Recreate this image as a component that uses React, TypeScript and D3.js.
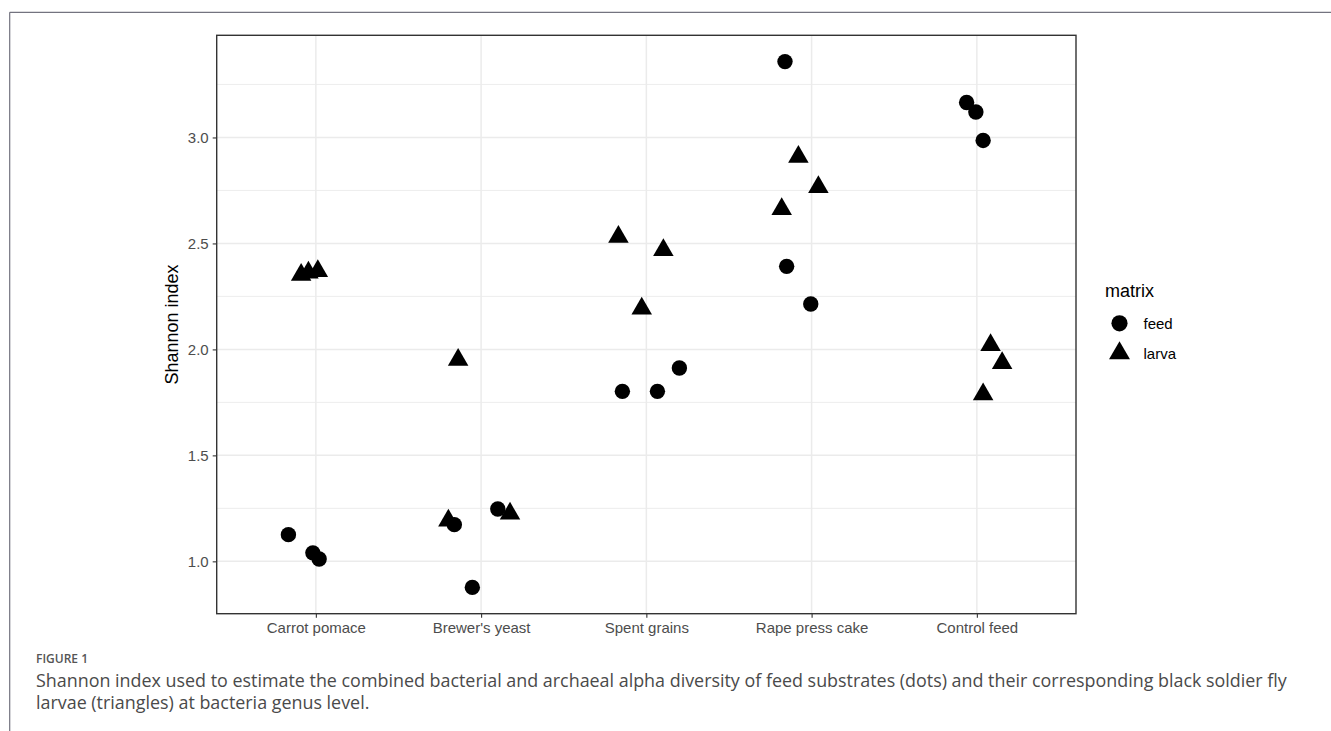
import React, { useEffect, useRef } from 'react';
import * as d3 from 'd3';

// substrate groups on the x axis
const categories = ['Carrot pomace', "Brewer's yeast", 'Spent grains', 'Rape press cake', 'Control feed'];

// Shannon index per sample, three replicates per group
const feedValues = [
  [1.126, 1.040, 1.011],
  [1.173, 1.247, 0.877],
  [1.802, 1.802, 1.912],
  [3.358, 2.392, 2.214],
  [3.165, 3.120, 2.986],
];
const larvaValues = [
  [2.352, 2.362, 2.370],
  [1.192, 1.225, 1.951],
  [2.531, 2.469, 2.193],
  [2.909, 2.766, 2.662],
  [2.020, 1.935, 1.788],
];

// horizontal jitter (in category units) as seen in the figure
const feedJitter = [
  [-0.166, -0.018, 0.020],
  [-0.162, 0.101, -0.053],
  [-0.145, 0.067, 0.200],
  [-0.161, -0.151, -0.005],
  [-0.062, -0.006, 0.038],
];
const larvaJitter = [
  [-0.089, -0.045, 0.012],
  [-0.198, 0.175, -0.139],
  [-0.169, 0.103, -0.028],
  [-0.080, 0.041, -0.181],
  [0.083, 0.153, 0.038],
];

const yTicks = [1.0, 1.5, 2.0, 2.5, 3.0];
const yMinor = [1.25, 1.75, 2.25, 2.75, 3.25];
const legendItems = ['feed', 'larva'];

const W = 1331;
const H = 731;
const margin = { top: 35.3, right: 255, bottom: 117.3, left: 216.7 };
const font = 'Liberation Sans, Arial, Helvetica, sans-serif';

export default function App() {
  const ref = useRef(null);

  useEffect(() => {
    const svg = d3.select(ref.current);
    svg.selectAll('*').remove();

    const left = margin.left;
    const right = W - margin.right;
    const top = margin.top;
    const bottom = H - margin.bottom;

    const all = feedValues.flat().concat(larvaValues.flat());
    const lo = d3.min(all);
    const hi = d3.max(all);
    const pad = (hi - lo) * 0.05;

    const x = d3.scalePoint().domain(categories).range([left, right]).padding(0.6);
    const y = d3.scaleLinear().domain([lo - pad, hi + pad]).range([bottom, top]);

    // figure frame lines
    svg.append('line')
      .attr('x1', 9.7).attr('x2', W).attr('y1', 12.3).attr('y2', 12.3)
      .attr('stroke', '#73737f').attr('stroke-width', 1.2);
    svg.append('line')
      .attr('x1', 9.7).attr('x2', 9.7).attr('y1', 12.3).attr('y2', H)
      .attr('stroke', '#73737f').attr('stroke-width', 1.2);

    const grid = svg.append('g');
    grid.selectAll('.minor')
      .data(yMinor)
      .join('line')
      .attr('x1', left).attr('x2', right)
      .attr('y1', d => y(d)).attr('y2', d => y(d))
      .attr('stroke', '#ebebeb').attr('stroke-width', 0.9);
    grid.selectAll('.major')
      .data(yTicks)
      .join('line')
      .attr('x1', left).attr('x2', right)
      .attr('y1', d => y(d)).attr('y2', d => y(d))
      .attr('stroke', '#ebebeb').attr('stroke-width', 1.5);
    grid.selectAll('.vmajor')
      .data(categories)
      .join('line')
      .attr('x1', d => x(d)).attr('x2', d => x(d))
      .attr('y1', top).attr('y2', bottom)
      .attr('stroke', '#ebebeb').attr('stroke-width', 1.5);

    // axes
    const yAxis = svg.append('g')
      .attr('transform', `translate(${left},0)`)
      .call(d3.axisLeft(y).tickValues(yTicks).tickFormat(d3.format('.1f')).tickSize(4).tickPadding(4));
    const xAxis = svg.append('g')
      .attr('transform', `translate(0,${bottom})`)
      .call(d3.axisBottom(x).tickSize(4).tickPadding(5));
    [yAxis, xAxis].forEach(a => {
      a.select('.domain').remove();
      a.selectAll('line').attr('stroke', '#333333').attr('stroke-width', 1.1);
      a.selectAll('text').attr('fill', '#4d4d4d').style('font-family', font).style('font-size', '15px');
    });

    const circle = d3.symbol().type(d3.symbolCircle).size(186);
    const tri = d3.symbol().type(d3.symbolTriangle).size(182);

    const pts = [];
    categories.forEach((c, i) => {
      feedValues[i].forEach((v, j) => pts.push({ c, v, j: feedJitter[i][j], m: 'feed' }));
      larvaValues[i].forEach((v, j) => pts.push({ c, v, j: larvaJitter[i][j], m: 'larva' }));
    });

    svg.append('g')
      .selectAll('path')
      .data(pts)
      .join('path')
      .attr('d', d => (d.m === 'feed' ? circle() : tri()))
      .attr('transform', d => `translate(${x(d.c) + d.j * x.step()},${y(d.v)})`)
      .attr('fill', '#000');

    // panel border
    svg.append('rect')
      .attr('x', left).attr('y', top)
      .attr('width', right - left).attr('height', bottom - top)
      .attr('fill', 'none').attr('stroke', '#333333').attr('stroke-width', 1.4);

    // y title
    svg.append('text')
      .attr('transform', `translate(178,${(top + bottom) / 2}) rotate(-90)`)
      .attr('text-anchor', 'middle')
      .style('font-family', font).style('font-size', '18px')
      .text('Shannon index');

    // legend
    const lg = svg.append('g').attr('transform', 'translate(1105,0)');
    lg.append('text')
      .attr('x', 0).attr('y', 296.7)
      .style('font-family', font).style('font-size', '18px')
      .text('matrix');
    lg.selectAll('path')
      .data(legendItems)
      .join('path')
      .attr('d', d => (d === 'feed' ? d3.symbol().type(d3.symbolCircle).size(205)() : d3.symbol().type(d3.symbolTriangle).size(190)()))
      .attr('transform', (d, i) => `translate(14.5,${323.3 + i * 30})`)
      .attr('fill', '#000');
    lg.selectAll('.lab')
      .data(legendItems)
      .join('text')
      .attr('x', 38.5)
      .attr('y', (d, i) => 328.5 + i * 30)
      .style('font-family', font).style('font-size', '15px')
      .text(d => d);

    // caption
    const cap = svg.append('g').style('font-family', 'Open Sans, Noto Sans, sans-serif');
    cap.append('text')
      .attr('x', 36).attr('y', 663)
      .attr('fill', '#555').style('font-size', '12px').style('font-weight', 600)
      .text('FIGURE 1');
    cap.append('text')
      .attr('x', 36).attr('y', 687)
      .attr('fill', '#4a4a4a').style('font-size', '17.9px')
      .text('Shannon index used to estimate the combined bacterial and archaeal alpha diversity of feed substrates (dots) and their corresponding black soldier fly');
    cap.append('text')
      .attr('x', 36).attr('y', 709)
      .attr('fill', '#4a4a4a').style('font-size', '17.9px')
      .text('larvae (triangles) at bacteria genus level.');
  }, []);

  return (
    <svg ref={ref} width={W} height={H} style={{ position: 'absolute', left: 0, top: 0, background: '#fff' }} />
  );
}
